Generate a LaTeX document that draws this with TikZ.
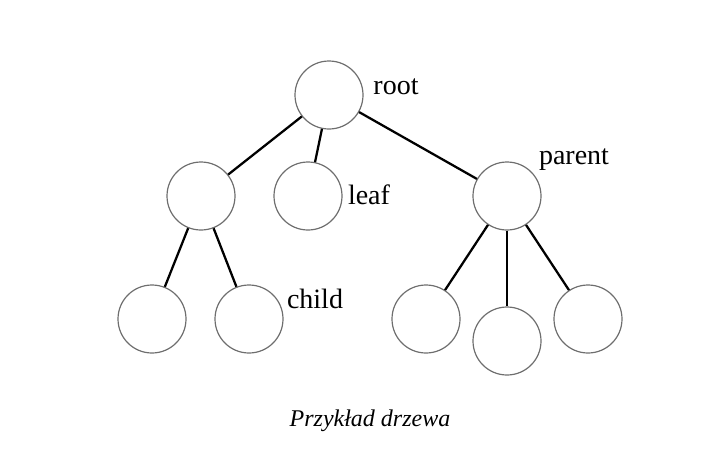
\documentclass[tikz,border=0pt]{standalone}
\usepackage{fontspec}
\setmainfont{Liberation Serif}
\usepackage{xcolor}
\definecolor{ringgray}{RGB}{110,110,110}

\begin{document}
\begin{tikzpicture}[x=0.75pt,y=-0.75pt,
		vert/.style={circle,draw=ringgray,line width=0.9pt,minimum size=51pt,inner sep=0pt},
		edge/.style={line width=1.7pt,black},
		lbl/.style={font=\fontsize{21}{23}\selectfont}]
			\useasboundingbox (0,0) rectangle (708,458);
			\node[vert] (root) at (329,95){};
			\node[vert] (l) at (201,196){};
			\node[vert] (leaf) at (308,196){};
			\node[vert] (parent) at (507,196){};
			\node[vert] (ll) at (152,319){};
			\node[vert] (lr) at (249,319){};
			\node[vert] (p1) at (426,319){};
			\node[vert] (p2) at (507,341){};
			\node[vert] (p3) at (588,319){};
			
			\draw[edge] (root) -- (l);
			\draw[edge] (root) -- (leaf);
			\draw[edge] (root) -- (parent);
			\draw[edge] (l) -- (ll);
			\draw[edge] (l) -- (lr);
			\draw[edge] (parent) -- (p1);
			\draw[edge] (parent) -- (p2);
			\draw[edge] (parent) -- (p3);
			
			\node[lbl] (rootlbl) at (396,87){root};
			\node[lbl] (leaflbl) at (369,195){leaf};
			\node[lbl] (parentlbl) at (574,160){parent};
			\node[lbl] (childlbl) at (315,299){child};
			
			\node[font=\fontsize{18}{20}\selectfont] (caption) at (370,421){\itshape Przykład drzewa};
		\end{tikzpicture}
\end{document}
